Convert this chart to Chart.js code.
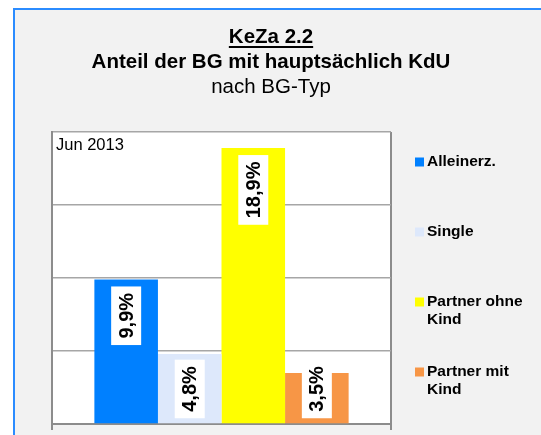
<!DOCTYPE html>
<html>
<head>
<meta charset="utf-8">
<script src="https://cdn.jsdelivr.net/npm/chart.js@4"></script>
<style>
  body { margin: 0; background: #fff; }
  #wrap { position: relative; width: 541px; height: 435px; overflow: hidden; }
  #panel { position: absolute; left: 13px; top: 8px; width: 600px; height: 500px;
           background: #f2f2f2; border-left: 2px solid #2b8cff; border-top: 2px solid #2b8cff; }
  #chart { position: absolute; left: 0; top: 0; }
</style>
</head>
<body>
<div id="wrap">
  <div id="panel"></div>
  <canvas id="chart" width="541" height="435"></canvas>
</div>
<script>
// Daten
const titleLines = ['KeZa 2.2', 'Anteil der BG mit hauptsächlich KdU'];
const subtitle = 'nach BG-Typ';
const period = 'Jun 2013';
const categories = ['Alleinerz.', 'Single', 'Partner ohne Kind', 'Partner mit Kind'];
const values = [9.9, 4.8, 18.9, 3.5];
const colors = ['#0080ff', '#dde8fb', '#ffff00', '#f79646'];
const yMin = 0, yMax = 20, yStep = 5;

const FONT = '"Liberation Sans", Arial, sans-serif';
const fmt = v => v.toFixed(1).replace('.', ',') + '%';

// Hintergrund Plotbereich
const plotBg = {
  id: 'plotBg',
  beforeDraw(chart) {
    const { ctx, chartArea: a } = chart;
    ctx.save();
    ctx.fillStyle = '#fff';
    ctx.fillRect(a.left, a.top, a.right - a.left, a.bottom - a.top);
    ctx.restore();
  }
};

// Titel, Datum, Werte, Legende
const decorations = {
  id: 'decorations',
  afterDraw(chart) {
    const { ctx, chartArea: a } = chart;
    ctx.save();
    ctx.fillStyle = '#000';
    ctx.textAlign = 'center';
    ctx.textBaseline = 'alphabetic';
    const cx = 271;
    ctx.font = 'bold 20.5px ' + FONT;
    titleLines.forEach((t, i) => ctx.fillText(t, cx, 43 + i * 25));
    // Unterstreichung erste Zeile
    const w = ctx.measureText(titleLines[0]).width;
    ctx.fillRect(cx - w / 2, 46, w, 2);
    ctx.font = '20.5px ' + FONT;
    ctx.fillText(subtitle, cx, 93);

    // Datum
    ctx.textAlign = 'left';
    ctx.font = '16.5px ' + FONT;
    ctx.fillText(period, a.left + 4, a.top + 18);

    // Werte
    ctx.font = 'bold 20px ' + FONT;
    chart.data.datasets.forEach((ds, i) => {
      const bar = chart.getDatasetMeta(i).data[0];
      const txt = fmt(ds.data[0]);
      const tw = ctx.measureText(txt).width;
      const bw = 30, bh = tw + 13;
      const top = Math.min(bar.y + 7, bar.base - 5 - bh);
      ctx.fillStyle = '#fff';
      ctx.fillRect(bar.x - bw / 2, top, bw, bh);
      ctx.save();
      ctx.translate(bar.x, top + bh / 2);
      ctx.rotate(-Math.PI / 2);
      ctx.fillStyle = '#000';
      ctx.textAlign = 'center';
      ctx.textBaseline = 'middle';
      ctx.fillText(txt, 0, 1);
      ctx.restore();
    });

    // Legende
    ctx.font = 'bold 15.5px ' + FONT;
    ctx.textAlign = 'left';
    ctx.textBaseline = 'middle';
    chart.data.datasets.forEach((ds, i) => {
      const y = 162 + i * 70;
      ctx.fillStyle = ds.backgroundColor;
      ctx.fillRect(415, y - 4.5, 9, 9);
      ctx.fillStyle = '#000';
      const lines = [];
      let cur = '';
      ds.label.split(' ').forEach(word => {
        const test = cur ? cur + ' ' + word : word;
        if (cur && ctx.measureText(test).width > 105) { lines.push(cur); cur = word; }
        else cur = test;
      });
      lines.push(cur);
      lines.forEach((l, j) => ctx.fillText(l, 427, y + j * 18));
    });
    ctx.restore();
  }
};

new Chart(document.getElementById('chart'), {
  type: 'bar',
  data: {
    labels: [period],
    datasets: categories.map((c, i) => ({
      label: c,
      data: [values[i]],
      backgroundColor: colors[i],
      categoryPercentage: 0.75,
      barPercentage: 1
    }))
  },
  options: {
    responsive: false,
    animation: false,
    layout: { padding: { top: 132, left: 52, right: 150, bottom: 5 } },
    plugins: { legend: { display: false }, title: { display: false }, tooltip: { enabled: false } },
    scales: {
      x: {
        ticks: { display: false },
        grid: { offset: true, color: '#8c8c8c', lineWidth: 2, drawTicks: true, tickLength: 6 },
        border: { color: '#8c8c8c', width: 2 }
      },
      y: {
        min: yMin, max: yMax,
        ticks: { display: false, stepSize: yStep },
        grid: { color: '#a6a6a6', lineWidth: 1.5, drawTicks: false },
        border: { color: '#8c8c8c', width: 2 }
      }
    }
  },
  plugins: [plotBg, decorations]
});
</script>
</body>
</html>
